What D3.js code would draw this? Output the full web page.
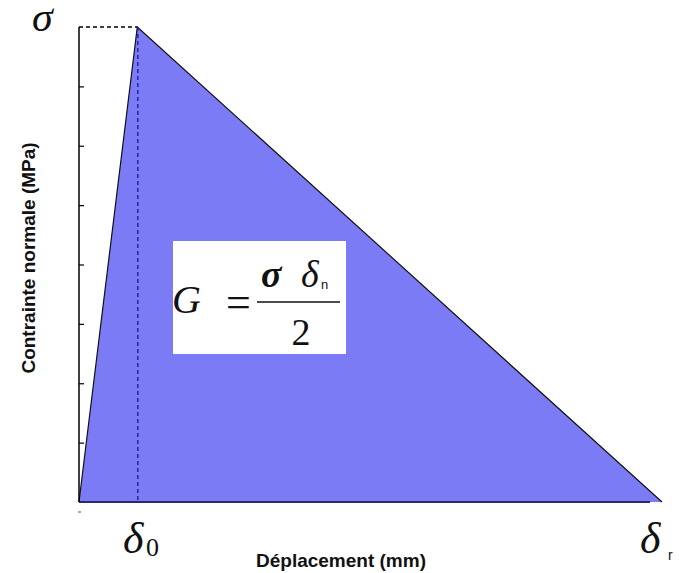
<!DOCTYPE html>
<html><head><meta charset="utf-8">
<script src="https://cdn.jsdelivr.net/npm/d3@7"></script>
<style>html,body{margin:0;padding:0;background:#fff;}svg{display:block;}</style>
</head><body>
<svg id="chart" width="679" height="573"></svg>
<script>
// ---- data ----
const displacement = [0, 1, 10];      // 0, δ0, δr
const stress = [0, 8, 0];             // 0, σ, 0
const yTickValues = [0, 1, 2, 3, 4, 5, 6, 7, 8];
const xAxisTitle = "Déplacement (mm)";
const yAxisTitle = "Contrainte normale (MPa)";

const svg = d3.select("#chart");
const x = d3.scaleLinear().domain([0, 10]).range([79, 662]);
const y = d3.scaleLinear().domain([0, 8]).range([502, 27]);

const pts = displacement.map((d, i) => [d, stress[i]]);
const area = d3.area().x(d => x(d[0])).y0(y(0)).y1(d => y(d[1]));

// fill
svg.append("path").datum(pts).attr("d", area).attr("fill", "#7b7bf6");

// edges
const line = d3.line().x(d => x(d[0])).y(d => y(d[1]));
svg.append("path").datum(pts).attr("d", line)
  .attr("fill", "none").attr("stroke", "#111").attr("stroke-width", 1.2);

// bottom edge
svg.append("line").attr("x1", x(0)).attr("x2", x(displacement[2]) - 12)
  .attr("y1", y(0)).attr("y2", y(0)).attr("stroke", "#2a2a66").attr("stroke-width", 2);

// dashed guides
svg.append("line").attr("x1", x(displacement[1]) + 0.5).attr("x2", x(displacement[1]) + 0.5)
  .attr("y1", y(stress[1])).attr("y2", y(0))
  .attr("stroke", "#2323a8").attr("stroke-width", 1.5).attr("stroke-dasharray", "4,3");
svg.append("line").attr("x1", x(0)).attr("x2", x(displacement[1]))
  .attr("y1", y(stress[1])).attr("y2", y(stress[1]))
  .attr("stroke", "#000").attr("stroke-width", 1.5).attr("stroke-dasharray", "4,3");

// y axis
const yAxis = d3.axisRight(y).tickValues(yTickValues).tickSize(5).tickFormat("");
const gy = svg.append("g").attr("transform", `translate(${x(0)},0)`).call(yAxis);
gy.select(".domain").attr("d", `M0,${y(8)}V${y(0)}`).attr("stroke", "#000").attr("stroke-width", 1.5);
gy.selectAll(".tick line").attr("stroke", "#000").attr("stroke-width", 1.2);
gy.selectAll(".tick").filter(d => d === 0 || d === 8).remove();

// small x tick below origin
svg.append("line").attr("x1", x(0) - 1).attr("x2", x(0) + 2)
  .attr("y1", 512).attr("y2", 512).attr("stroke", "#555").attr("stroke-width", 1);

// axis titles
const sans = "Liberation Sans, Arial, sans-serif";
svg.append("text").attr("x", 341).attr("y", 567).attr("text-anchor", "middle")
  .attr("font-family", sans).attr("font-weight", "bold")
  .attr("font-size", 19).attr("fill", "#111").text(xAxisTitle);
svg.append("text").attr("transform", "translate(35,258) rotate(-90)").attr("text-anchor", "middle")
  .attr("font-family", sans).attr("font-weight", "bold")
  .attr("font-size", 19).attr("fill", "#111").text(yAxisTitle);

// symbol labels
const serif = "Liberation Serif, Times New Roman, serif";
svg.append("text").attr("x", 32).attr("y", 31).attr("font-family", serif).attr("font-style", "italic")
  .attr("font-size", 42).attr("fill", "#111").text("σ");
svg.append("text").attr("x", 123).attr("y", 553).attr("font-family", serif).attr("font-style", "italic")
  .attr("font-size", 44).attr("fill", "#111").text("δ");
svg.append("text").attr("x", 146).attr("y", 556).attr("font-family", serif)
  .attr("font-size", 26).attr("fill", "#111").text("0");
svg.append("text").attr("x", 640).attr("y", 553).attr("font-family", serif).attr("font-style", "italic")
  .attr("font-size", 44).attr("fill", "#111").text("δ");
svg.append("text").attr("x", 668).attr("y", 560).attr("font-family", sans)
  .attr("font-size", 14).attr("fill", "#111").text("r");

// formula box
svg.append("rect").attr("x", 173).attr("y", 241).attr("width", 173).attr("height", 113).attr("fill", "#fff");
svg.append("text").attr("x", 172).attr("y", 313).attr("font-family", serif).attr("font-style", "italic")
  .attr("font-size", 40).attr("fill", "#111").text("G");
svg.append("text").attr("x", 226).attr("y", 317).attr("font-family", serif)
  .attr("font-size", 44).attr("fill", "#111").text("=");
svg.append("line").attr("x1", 257).attr("x2", 340).attr("y1", 302).attr("y2", 302)
  .attr("stroke", "#111").attr("stroke-width", 1.5);
svg.append("text").attr("x", 261).attr("y", 287).attr("font-family", serif).attr("font-style", "italic")
  .attr("font-weight", "bold").attr("font-size", 38).attr("fill", "#111").text("σ");
svg.append("text").attr("x", 301).attr("y", 287).attr("font-family", serif).attr("font-style", "italic")
  .attr("font-size", 38).attr("fill", "#111").text("δ");
svg.append("text").attr("x", 321).attr("y", 289).attr("font-family", sans)
  .attr("font-size", 13).attr("fill", "#111").text("n");
svg.append("text").attr("x", 301).attr("y", 345).attr("text-anchor", "middle").attr("font-family", serif)
  .attr("font-size", 38).attr("fill", "#111").text("2");
</script>
</body></html>
